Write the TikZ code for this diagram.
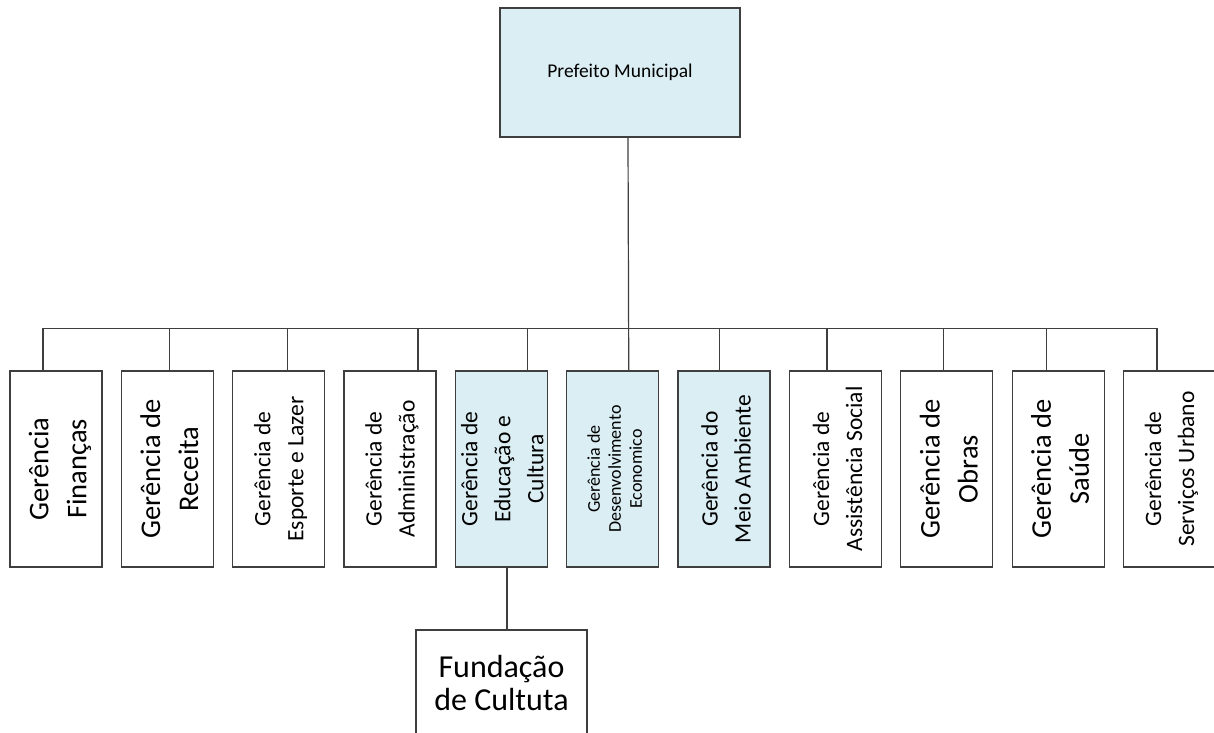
\documentclass[tikz,border=0pt]{standalone}
\usepackage{fontspec}
\setmainfont{Carlito}
\definecolor{linegray}{HTML}{3F3F3F}
\definecolor{lightblue}{HTML}{DBEEF4}
\tikzset{
  box/.style={draw=linegray, line width=1.3bp, minimum width=92bp, minimum height=196bp, inner sep=0pt, fill=white},
  bluebox/.style={box, fill=lightblue},
  vt/.style={rotate=90, align=center, inner sep=0pt, text=black},
  conn/.style={draw=linegray, line width=1.2bp},
  big/.style={font=\fontsize{28.5bp}{38bp}\selectfont},
  mid/.style={font=\fontsize{23.5bp}{33bp}\selectfont},
  small/.style={font=\fontsize{18bp}{21bp}\selectfont}
}
\begin{document}
\begin{tikzpicture}[x=1bp,y=-1bp]
\useasboundingbox (0,0) rectangle (1214,733);
\clip (0,0) rectangle (1214,733);
\fill[white] (0,0) rectangle (1214,733);

% top box
\node[bluebox, minimum width=240bp, minimum height=129bp, font=\fontsize{19.5bp}{22bp}\selectfont] (top) at (620,72.5) {Prefeito Municipal};

% second level boxes
\node[box]      (b1)  at (56,469)     {};
\node[box]      (b2)  at (167.35,469) {};
\node[box]      (b3)  at (278.7,469)  {};
\node[box]      (b4)  at (390.05,469) {};
\node[bluebox]  (b5)  at (501.4,469)  {};
\node[bluebox]  (b6)  at (612.75,469) {};
\node[bluebox]  (b7)  at (724.1,469)  {};
\node[box]      (b8)  at (835.45,469) {};
\node[box]      (b9)  at (946.8,469)  {};
\node[box]      (b10) at (1058.15,469){};
\node[box]      (b11) at (1169.5,469) {};

\node[vt, big] (t1)  at ([xshift=4bp]b1)   {Gerência\\Finanças};
\node[vt, big] (t2)  at ([xshift=2bp]b2)   {Gerência de\\Receita};
\node[vt, mid] (t3)  at ([xshift=2bp]b3)   {Gerência de\\Esporte e Lazer};
\node[vt, mid] (t4)  at ([xshift=2bp]b4)   {Gerência de\\Administração};
\node[vt, mid] (t5)  at ([xshift=1bp]b5)   {Gerência de\\Educação e\\Cultura};
\node[vt, small] (t6) at ([xshift=2bp]b6)  {Gerência de\\Desenvolvimento\\Economico};
\node[vt, mid] (t7)  at ([xshift=2bp]b7)   {Gerência do\\Meio Ambiente};
\node[vt, mid] (t8)  at ([xshift=2bp]b8)   {Gerência de\\Assistência Social};
\node[vt, big] (t9)  at ([xshift=2bp]b9)   {Gerência de\\Obras};
\node[vt, big] (t10) at ([xshift=2bp]b10)  {Gerência de\\Saúde};
\node[vt, mid] (t11) at ([xshift=2bp]b11)  {Gerência de\\Serviços Urbano};

% third level
\node[box, minimum width=171bp, minimum height=106bp, align=center, font=\fontsize{32bp}{33bp}\selectfont] (fund) at (501.5,683) {Fundação\\de Cultuta};

% connectors
\draw[conn] ([xshift=8bp]top.south) -- ([xshift=16bp]b6.north);
\draw[conn] ([xshift=-13bp]b1.north) -- ++(0,-42) -| ([xshift=-12.5bp]b11.north);
\draw[conn] ([xshift=2.5bp]b2.north)  -- ++(0,-42);
\draw[conn] ([xshift=9bp]b3.north)    -- ++(0,-42);
\draw[conn] ([xshift=28bp]b4.north)   -- ++(0,-42);
\draw[conn] ([xshift=26bp]b5.north)   -- ++(0,-42);
\draw[conn] ([xshift=-5bp]b7.north)   -- ++(0,-42);
\draw[conn] ([xshift=-8.5bp]b8.north) -- ++(0,-42);
\draw[conn] ([xshift=-3bp]b9.north)   -- ++(0,-42);
\draw[conn] ([xshift=-12bp]b10.north) -- ++(0,-42);
\draw[conn] ([xshift=5.6bp]b5.south)  -- ([xshift=5.5bp]fund.north);
\end{tikzpicture}
\end{document}
